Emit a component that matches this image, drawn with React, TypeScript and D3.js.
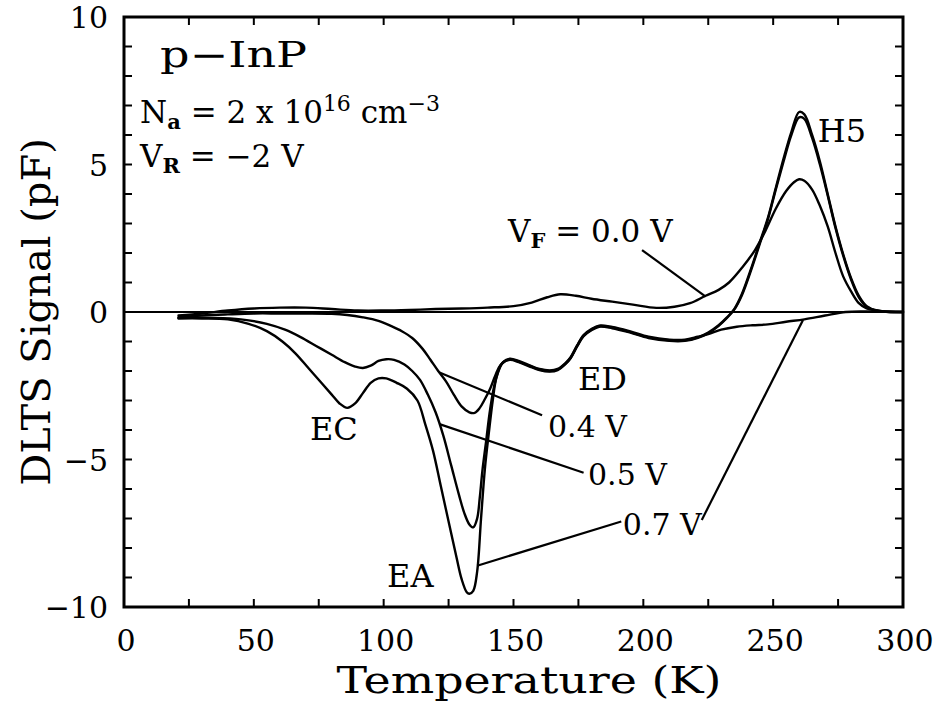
import React from 'react';
import * as d3 from 'd3';

// ---- data ----
const xTickValues = d3.range(0, 301, 25);
const xTickLabels = [0, 50, 100, 150, 200, 250, 300];
const yTickValues = d3.range(-10, 11, 1);
const yTickLabels = [-10, -5, 0, 5, 10];

// V_F = 0.0 V
const t00 = [21,30,40,50,60,70,80,90,100,110,120,130,140,150,157,163,168,174,180,188,196,205,212,218,224,229,233,238,243,247,251,255,258,260,262,265,268,271,274,277,280,283,286,290,295,300];
const v00 = [-0.12,-0.05,0.05,0.12,0.15,0.15,0.1,0.05,0.05,0.07,0.1,0.12,0.15,0.2,0.32,0.5,0.6,0.55,0.45,0.35,0.25,0.14,0.18,0.3,0.55,0.75,1.0,1.5,2.1,2.75,3.5,4.1,4.4,4.5,4.45,4.15,3.6,2.9,2.0,1.2,0.7,0.3,0.12,0.05,0.0,0.0];

// V_F = 0.4 V
const t04 = [21,30,40,50,60,70,80,86,92,98,103,107,111,115,118,121,124,127,130,133,135,137,139,141,143,145,148.6,152,156,160,164,167,170,172,174.5,177,180,183,188,195,202,210,216,221,225,229,232,235,238,242,245,248,251,254,257,260,262,265,268,271,274,277,280,283,286,290,300];
const v04 = [-0.18,-0.12,-0.08,-0.05,-0.05,-0.05,-0.06,-0.1,-0.18,-0.3,-0.48,-0.65,-0.88,-1.25,-1.62,-2.0,-2.35,-2.8,-3.2,-3.4,-3.42,-3.25,-2.95,-2.6,-2.15,-1.8,-1.6,-1.68,-1.82,-1.95,-2.0,-1.95,-1.75,-1.55,-1.15,-0.8,-0.6,-0.48,-0.53,-0.68,-0.86,-0.96,-0.96,-0.86,-0.7,-0.45,-0.2,0.1,0.62,1.6,2.4,3.2,4.2,5.2,6.1,6.78,6.7,6.0,5.1,4.0,2.9,1.95,1.15,0.55,0.2,0.05,0.0];

// V_F = 0.5 V
const t05 = [21,35,45,55,62,68,74,80,85,89,92,95,98,101,104,108,111,114,117,120,123,126,129,131,133,134.5,136,137,138,139.5,141,143,145.5,148.6,152,156,160,164,167,170,172,174.5,177,180,183,188,195,202,210,216,221,225,229,232,235,238,242,245,248,251,254,257,260,262,265,268,271,274,277,280,283,286,290,300];
const v05 = [-0.2,-0.2,-0.25,-0.4,-0.6,-0.85,-1.15,-1.45,-1.7,-1.85,-1.9,-1.82,-1.66,-1.6,-1.62,-1.78,-2.0,-2.3,-2.8,-3.4,-4.2,-5.2,-6.2,-6.8,-7.2,-7.3,-7.0,-6.3,-5.4,-4.35,-3.3,-2.35,-1.75,-1.62,-1.7,-1.84,-1.97,-2.02,-1.97,-1.77,-1.57,-1.17,-0.82,-0.62,-0.5,-0.55,-0.7,-0.88,-0.98,-0.98,-0.88,-0.72,-0.47,-0.22,0.08,0.58,1.55,2.35,3.15,4.15,5.1,6.0,6.6,6.55,5.9,5.0,3.95,2.85,1.9,1.1,0.5,0.18,0.04,0.0];

// V_F = 0.7 V
const t07 = [21,30,40,48,55,61,66,71,76,80,83,86,89,92,95,98,101,105,109,113,116,119,122,125,128,130,132,133,134.5,136,137.5,139,140.5,142,143.5,146,148.6,152,156,160,164,167,170,172,174.5,177,180,183,188,195,202,210,216,221,225,230,236,242,248,255,262,270,278,285,300];
const v07 = [-0.22,-0.22,-0.25,-0.4,-0.65,-1.0,-1.4,-1.9,-2.4,-2.8,-3.1,-3.25,-3.1,-2.75,-2.4,-2.25,-2.25,-2.4,-2.6,-3.0,-3.8,-4.7,-5.9,-7.1,-8.3,-9.05,-9.5,-9.55,-9.45,-8.8,-7.0,-5.3,-4.1,-3.0,-2.2,-1.7,-1.58,-1.66,-1.8,-1.93,-1.98,-1.93,-1.73,-1.53,-1.13,-0.78,-0.58,-0.46,-0.51,-0.66,-0.84,-0.94,-0.94,-0.84,-0.75,-0.6,-0.5,-0.45,-0.42,-0.33,-0.25,-0.12,0.0,0.02,0.0];

const seriesTemps = [t00, t04, t05, t07];
const seriesValues = [v00, v04, v05, v07];

// leader lines: [T1, V1, T2, V2]
const leaderLines = [
  [199.5, 2.1, 224, 0.52],
  [161, -3.5, 121.5, -2.05],
  [177, -5.45, 121.5, -3.8],
  [191.5, -7.1, 136, -8.6],
  [222.5, -7.05, 261.5, -0.27],
];

// peak labels: [text, T, V]
const peakLabels: [string, number, number][] = [
  ['EC', 71.6, -4.34],
  ['EA', 101.3, -9.32],
  ['ED', 174.8, -2.64],
  ['H5', 267.2, 5.76],
];
const biasLabels: [string, number, number][] = [
  ['0.4 V', 163.3, -4.24],
  ['0.5 V', 178.7, -5.86],
  ['0.7 V', 192.1, -7.56],
];

const FONT = "DejaVu Serif";
const W = 939, H = 705;
const L = 124, R = 903, T = 17, B = 607;

export default function App() {
  const sx = d3.scaleLinear().domain([0, 300]).range([L, R]);
  const sy = d3.scaleLinear().domain([-10, 10]).range([B, T]);
  const line = d3.line<[number, number]>()
    .x(d => sx(d[0]))
    .y(d => sy(d[1]))
    .curve(d3.curveCatmullRom.alpha(0.5));
  const tick = 8;

  return (
    <svg width={W} height={H} viewBox={`0 0 ${W} ${H}`}
      style={{ position: 'absolute', left: 0, top: 0, background: '#fff' }}>
      <rect x={0} y={0} width={W} height={H} fill="#fff" />
      <line x1={L} x2={R} y1={sy(0)} y2={sy(0)} stroke="#000" strokeWidth={1.8} />
      {seriesTemps.map((ts, i) => (
        <path key={i}
          d={line(ts.map((t, j) => [t, seriesValues[i][j]] as [number, number])) || ''}
          fill="none" stroke="#000" strokeWidth={2.4} strokeLinejoin="round" strokeLinecap="round" />
      ))}
      {leaderLines.map((l, i) => (
        <line key={i} x1={sx(l[0])} y1={sy(l[1])} x2={sx(l[2])} y2={sy(l[3])}
          stroke="#000" strokeWidth={2.2} />
      ))}
      {xTickValues.map(v => (
        <g key={'xt' + v}>
          <line x1={sx(v)} x2={sx(v)} y1={B} y2={B - tick} stroke="#000" strokeWidth={2} />
          <line x1={sx(v)} x2={sx(v)} y1={T} y2={T + tick} stroke="#000" strokeWidth={2} />
        </g>
      ))}
      {yTickValues.map(v => (
        <g key={'yt' + v}>
          <line x1={L} x2={L + tick} y1={sy(v)} y2={sy(v)} stroke="#000" strokeWidth={2} />
          <line x1={R} x2={R - tick} y1={sy(v)} y2={sy(v)} stroke="#000" strokeWidth={2} />
        </g>
      ))}
      <rect x={L} y={T} width={R - L} height={B - T} fill="none" stroke="#000" strokeWidth={3} />
      {xTickLabels.map(v => (
        <text key={'xl' + v} x={sx(v) + 2} y={651} fontSize={30} fontFamily={FONT} textAnchor="middle">{v}</text>
      ))}
      {yTickLabels.map(v => (
        <text key={'yl' + v} x={108} y={sy(v) + 11} fontSize={30} fontFamily={FONT} textAnchor="end">
          {v < 0 ? '\u2212' + Math.abs(v) : String(v)}
        </text>
      ))}
      <text x={529} y={693} fontSize={37} fontFamily={FONT} textAnchor="middle" textLength={385} lengthAdjust="spacingAndGlyphs">Temperature (K)</text>
      <text transform={`translate(50, ${(T + B) / 2}) rotate(-90)`} fontSize={40} fontFamily={FONT} textAnchor="middle">DLTS Signal (pF)</text>

      <text x={sx(13.9)} y={sy(8.3)} fontSize={35} fontFamily={FONT} textLength={147} lengthAdjust="spacingAndGlyphs">p{'\u2212'}InP</text>
      <text x={sx(6.2)} y={sy(6.4)} fontSize={31} fontFamily={FONT}>
        N<tspan fontSize={21} dy={6} fontWeight="bold">a</tspan>
        <tspan dy={-6}> = 2 x 10</tspan>
        <tspan fontSize={22} dy={-12}>16</tspan>
        <tspan dy={12}> cm</tspan>
        <tspan fontSize={22} dy={-12}>{'\u22123'}</tspan>
      </text>
      <text x={sx(6.2)} y={sy(4.92)} fontSize={31} fontFamily={FONT}>
        V<tspan fontSize={21} dy={6} fontWeight="bold">R</tspan>
        <tspan dy={-6}> = {'\u2212'}2 V</tspan>
      </text>
      <text x={sx(147.9)} y={sy(2.37)} fontSize={31} fontFamily={FONT}>
        V<tspan fontSize={21} dy={6} fontWeight="bold">F</tspan>
        <tspan dy={-6}> = 0.0 V</tspan>
      </text>
      {peakLabels.map(([s, t, v]) => (
        <text key={s} x={sx(t)} y={sy(v)} fontSize={32} fontFamily={FONT}>{s}</text>
      ))}
      {biasLabels.map(([s, t, v]) => (
        <text key={s} x={sx(t)} y={sy(v)} fontSize={30} fontFamily={FONT}>{s}</text>
      ))}
    </svg>
  );
}
